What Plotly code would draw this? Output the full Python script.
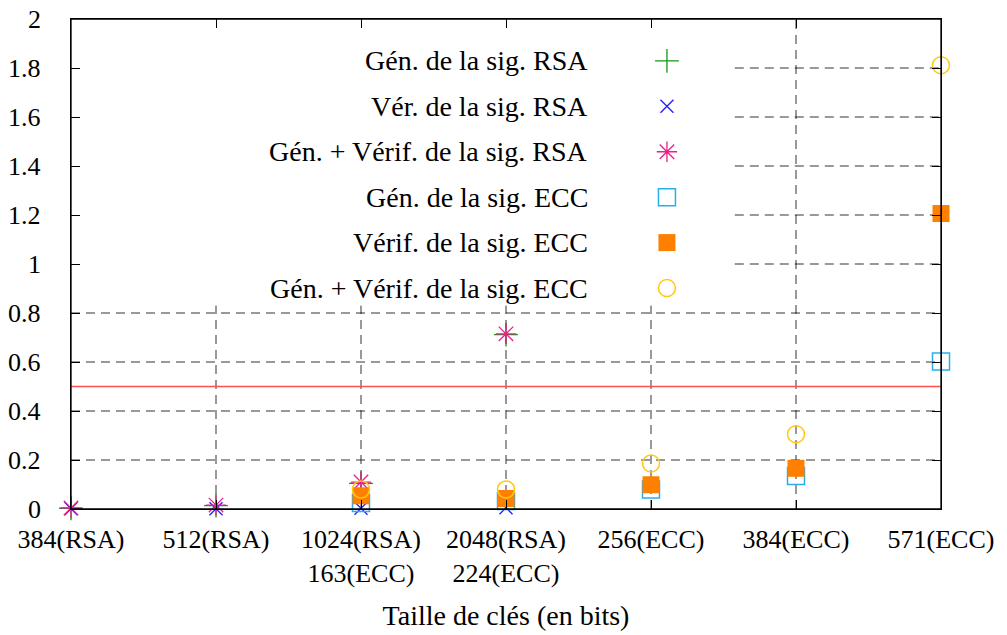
import plotly.graph_objects as go

# ---- data ----
positions = [1, 2, 3, 4, 5, 6, 7]
tick_labels = ["384(RSA)", "512(RSA)", "1024(RSA)<br>163(ECC)", "2048(RSA)<br>224(ECC)",
               "256(ECC)", "384(ECC)", "571(ECC)"]
y_ticks = [0, 0.2, 0.4, 0.6, 0.8, 1.0, 1.2, 1.4, 1.6, 1.8, 2.0]
y_tick_labels = ["0", "0.2", "0.4", "0.6", "0.8", "1", "1.2", "1.4", "1.6", "1.8", "2"]

rsa_gen = [0.003, 0.014, 0.105, 0.712, None, None, None]
rsa_ver = [0.001, 0.001, 0.003, 0.005, None, None, None]
rsa_both = [0.004, 0.016, 0.110, 0.715, None, None, None]
ecc_gen = [None, None, 0.025, 0.033, 0.080, 0.135, 0.602]
ecc_ver = [None, None, 0.054, 0.043, 0.099, 0.166, 1.206]
ecc_both = [None, None, 0.080, 0.080, 0.186, 0.305, 1.811]

threshold = 0.5

series_names = [
    "Gén. de la sig. RSA",
    "Vér. de la sig. RSA",
    "Gén. + Vérif. de la sig. RSA",
    "Gén. de la sig. ECC",
    "Vérif. de la sig. ECC",
    "Gén. + Vérif. de la sig. ECC",
]
series_values = [rsa_gen, rsa_ver, rsa_both, ecc_gen, ecc_ver, ecc_both]

# ---- styles ----
FONT = "Liberation Serif"
FS_TICK = 26
FS_TEXT = 28
X_RANGE = [1, 7]
Y_RANGE = [0, 2]
PLOT_W = 870  # plot area width in px
styles = [
    dict(symbol="cross-thin", size=17, color="rgb(20,150,20)", line=dict(color="rgb(20,150,20)", width=1.3)),
    dict(symbol="x-thin", size=13, color="rgb(30,30,255)", line=dict(color="rgb(30,30,255)", width=1.3)),
    dict(symbol="asterisk", size=17, color="rgb(235,30,140)", line=dict(color="rgb(235,30,140)", width=1.3)),
    dict(symbol="square-open", size=17, color="rgb(40,175,235)", line=dict(color="rgb(40,175,235)", width=1.5)),
    dict(symbol="square", size=17, color="rgb(255,128,0)", line=dict(width=0)),
    dict(symbol="circle-open", size=17, color="rgb(255,200,20)", line=dict(color="rgb(255,200,20)", width=1.5)),
]

def dx(frac):
    return X_RANGE[0] + frac * (X_RANGE[1] - X_RANGE[0])

def dy(frac):
    return Y_RANGE[0] + frac * (Y_RANGE[1] - Y_RANGE[0])

fig = go.Figure()

# legend box geometry (fractions of plot area)
box_right = 0.763
box_bottom = 0.415

# ---- dashed grid, interrupted by the legend box ----
grid_line = dict(color="rgba(0,0,0,0.8)", width=1, dash="9px,6px")
for xv in positions[1:-1]:
    top = Y_RANGE[1] if xv > dx(box_right) else dy(box_bottom)
    fig.add_shape(type="line", xref="x", yref="y", x0=xv, x1=xv, y0=Y_RANGE[0], y1=top,
                  line=grid_line, layer="below")
for yv in y_ticks[1:-1]:
    left = dx(box_right) if yv > dy(box_bottom) else X_RANGE[0]
    fig.add_shape(type="line", xref="x", yref="y", x0=left, x1=X_RANGE[1], y0=yv, y1=yv,
                  line=grid_line, layer="below")

# red threshold line
fig.add_shape(type="line", xref="x", yref="y", x0=X_RANGE[0], x1=X_RANGE[1], y0=threshold, y1=threshold,
              line=dict(color="rgb(255,80,80)", width=1.3), layer="below")

# plot frame
fig.add_shape(type="rect", xref="x domain", yref="y domain", x0=0, x1=1, y0=0, y1=1,
              line=dict(color="black", width=1.3), layer="above")

for name, vals, st in zip(series_names, series_values, styles):
    fig.add_trace(go.Scatter(x=positions, y=vals, mode="markers", name=name,
                             marker=st, cliponaxis=False, showlegend=False))

# ---- y tick labels (right-aligned, 28px left of the axis) ----
for yv, lab in zip(y_ticks, y_tick_labels):
    fig.add_annotation(x=-28 / PLOT_W, y=yv, xref="x domain", yref="y", text=lab,
                       showarrow=False, xanchor="right", yanchor="middle",
                       font=dict(family=FONT, size=FS_TICK))

# ---- custom legend (text left, symbol right) ----
leg_text_x = 0.597
leg_mark_x = 0.685
leg_top = 0.9145
leg_step = 0.0927
for i, (name, st) in enumerate(zip(series_names, styles)):
    yy = leg_top - i * leg_step
    fig.add_trace(go.Scatter(x=[dx(leg_mark_x)], y=[dy(yy)], mode="markers", marker=st,
                             showlegend=False, cliponaxis=False, hoverinfo="skip"))
    fig.add_annotation(x=leg_text_x, y=yy, xref="x domain", yref="y domain", text=name,
                       showarrow=False, xanchor="right", yanchor="middle",
                       font=dict(family=FONT, size=FS_TEXT))

axis_common = dict(showline=True, linecolor="black", linewidth=1.3, mirror="allticks",
                   ticks="inside", ticklen=9, tickcolor="black", tickwidth=1.2,
                   showgrid=False, zeroline=False, automargin=False,
                   tickfont=dict(family=FONT, size=FS_TICK))

fig.update_layout(
    template="none",
    width=1007, height=635,
    margin=dict(l=71, r=66, t=19, b=126),
    paper_bgcolor="white", plot_bgcolor="white",
    font=dict(color="black"),
    xaxis=dict(range=X_RANGE, tickmode="array", tickvals=positions, ticktext=tick_labels,
               ticklabelstandoff=7,
               title=dict(text="Taille de clés (en bits)", font=dict(family=FONT, size=FS_TEXT),
                          standoff=18),
               **axis_common),
    yaxis=dict(range=Y_RANGE, tickmode="array", tickvals=y_ticks, showticklabels=False,
               **axis_common),
    showlegend=False,
)

fig.write_html("out.html", config={"displayModeBar": False},
               post_script="document.body.style.margin='0';document.body.style.overflow='hidden';")
